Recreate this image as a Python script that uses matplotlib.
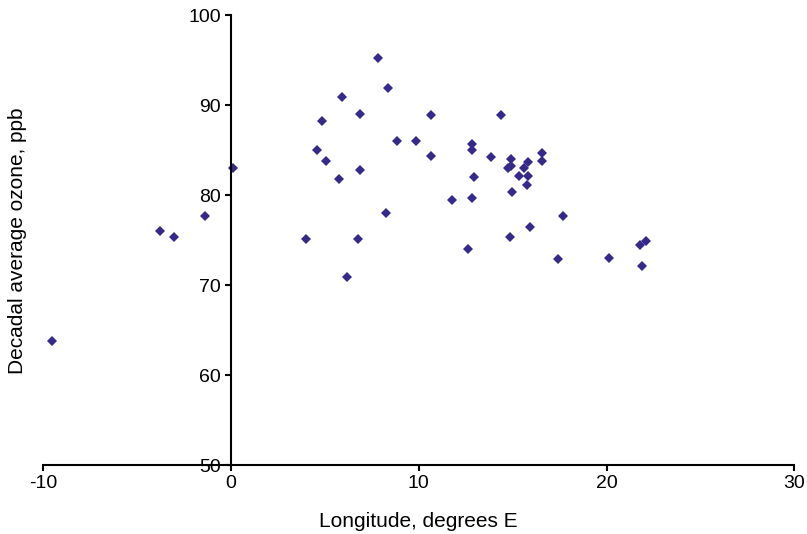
import matplotlib
matplotlib.use('Agg')
from matplotlib import pyplot as plt

plt.rcParams['font.family'] = ['Liberation Sans', 'DejaVu Sans']
plt.rcParams['axes.unicode_minus'] = False

# decadal average ozone vs station longitude
longitude = [
    -9.52, -3.78, -3.05, -1.35, 0.13,
    7.81, 8.39, 5.90, 6.85, 4.87, 8.83, 9.86, 4.57, 5.08, 6.85, 5.76,
    8.25, 3.99, 6.78, 6.20,
    10.65, 14.40, 10.65, 12.86, 12.86, 13.86, 14.92, 14.74, 14.92,
    15.80, 15.62, 15.36, 15.80, 15.75, 14.99, 16.59, 16.54,
    12.95, 11.77, 12.86, 17.71, 12.65, 14.86, 15.94, 17.43,
    20.11, 21.79, 22.09, 21.87,
]
ozone = [
    63.8, 76.0, 75.4, 77.7, 83.1,
    95.3, 91.9, 90.9, 89.1, 88.3, 86.0, 86.1, 85.1, 83.8, 82.8, 81.8,
    78.0, 75.2, 75.2, 70.9,
    88.9, 88.9, 84.4, 85.7, 85.0, 84.3, 84.0, 83.1, 83.3,
    83.7, 83.1, 82.2, 82.2, 81.2, 80.4, 84.7, 83.8,
    82.0, 79.5, 79.7, 77.7, 74.1, 75.4, 76.5, 72.9,
    73.1, 74.5, 74.9, 72.2,
]

fig = plt.figure(figsize=(8.07, 5.34), dpi=100)
ax = fig.add_axes([0.0533, 0.1283, 0.9310, 0.8427])

ax.plot(longitude, ozone, linestyle='', marker='D', markersize=5.5,
        color='#35298a', markeredgewidth=0)

ax.set_xlim(-10, 30)
ax.set_ylim(50, 100)
ax.set_xticks([-10, 0, 10, 20, 30])
ax.set_yticks([50, 60, 70, 80, 90, 100])

ax.spines['left'].set_position(('data', 0))
ax.spines['top'].set_visible(False)
ax.spines['right'].set_visible(False)
for side in ['left', 'bottom']:
    ax.spines[side].set_linewidth(1.5)
ax.tick_params(direction='out', length=4, width=1.5, labelsize=14, pad=3)

ax.set_xlabel('Longitude, degrees E', fontsize=15, labelpad=14)
ax.set_ylabel('Decadal average ozone, ppb', fontsize=15)
ax.yaxis.set_label_coords(-0.021, 0.5)

fig.savefig('out.png', dpi=100)
